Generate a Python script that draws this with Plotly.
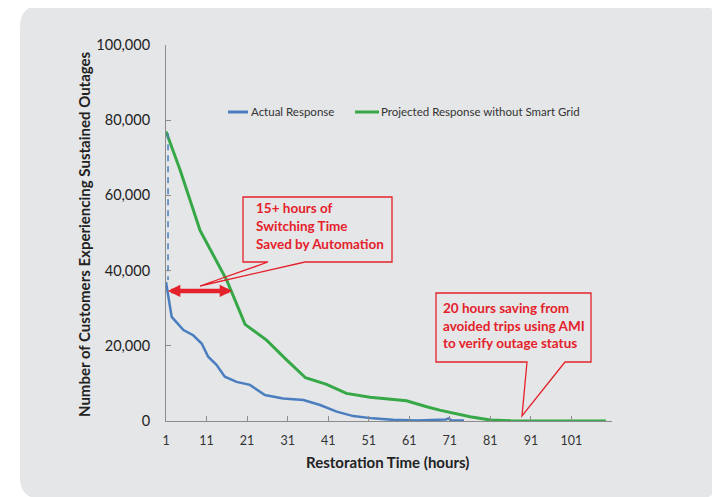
import plotly.graph_objects as go

# ---------------- data ----------------
actual_hours = [1, 2.4, 5.3, 7.7, 9.8, 11.4, 13.5, 15.5, 18.4, 21.7, 25.4, 29.9, 34.9, 39, 43.1,
                47.2, 52, 57, 63, 68, 70, 70.7, 71.5, 74.5]
actual_values = [37000, 27700, 24200, 22800, 20600, 17100, 14900, 11800, 10400, 9600, 6900, 6000,
                 5600, 4250, 2500, 1300, 700, 300, 150, 200, 400, 700, 150, 100]

projected_hours = [1, 4.5, 9.4, 16, 20.5, 25.8, 30.8, 35.4, 40.6, 45.5, 51.3, 60.3, 65.3, 68.5,
                   76, 81, 86, 109.5]
projected_values = [77000, 66700, 50700, 37400, 25700, 21500, 16200, 11500, 9750, 7350, 6300,
                     5400, 3800, 2900, 1150, 250, 80, 0]

# initial drop (dashed) of the actual response
drop_hours = [1.5, 1.5]
drop_values = [76500, 37500]

# automation saving arrow (hours) at level
saving_start, saving_end, saving_level = 1.1, 17.3, 34600

x_ticks = [1, 11, 21, 31, 41, 51, 61, 71, 81, 91, 101]
y_ticks = [0, 20000, 40000, 60000, 80000, 100000]
y_tick_labels = ["0", "20,000", "40,000", "60,000", "80,000", "100,000"]

series_names = ["Actual Response", "Projected Response without Smart Grid"]
callout1 = ["15+ hours of", "Switching Time", "Saved by Automation"]
callout2 = ["20 hours saving from", "avoided trips using AMI", "to verify outage status"]

BLUE = "#4a7ebf"
GREEN = "#37a847"
RED = "#e4222b"
CARD = "#e5e6e8"
FONT = "Lato"

# ---------------- layout geometry (page pixels; page has an 8px body margin) ----------------
OFF = 8
W, H = 720 - OFF, 497 - OFF
L, R, T, B = 166 - OFF, 108, 45 - OFF, 76
PW, PH = W - L - R, H - T - B


def xp(px):
    return (px - OFF - L) / PW


def yp(py):
    return (H - B - (py - OFF)) / PH


def path(points, close=True):
    s = "M " + " L ".join(f"{xp(a):.5f},{yp(b):.5f}" for a, b in points)
    return s + (" Z" if close else "")


fig = go.Figure()

fig.add_trace(go.Scatter(x=projected_hours, y=projected_values, mode="lines",
                         line=dict(color=GREEN, width=3), name=series_names[1]))
fig.add_trace(go.Scatter(x=actual_hours, y=actual_values, mode="lines",
                         line=dict(color=BLUE, width=2.5), name=series_names[0]))
fig.add_trace(go.Scatter(x=drop_hours, y=drop_values, mode="lines",
                         line=dict(color=BLUE, width=1.5, dash="6px,5px"), showlegend=False))

shapes = []
# rounded card background
x0, x1, y0, y1, r = 20, 719, 5, 499, 22
card = (f"M {xp(x0 + r)},{yp(y0)} L {xp(x1 - r)},{yp(y0)} Q {xp(x1)},{yp(y0)} {xp(x1)},{yp(y0 + r)} "
        f"L {xp(x1)},{yp(y1 - r)} Q {xp(x1)},{yp(y1)} {xp(x1 - r)},{yp(y1)} "
        f"L {xp(x0 + r)},{yp(y1)} Q {xp(x0)},{yp(y1)} {xp(x0)},{yp(y1 - r)} "
        f"L {xp(x0)},{yp(y0 + r)} Q {xp(x0)},{yp(y0)} {xp(x0 + r)},{yp(y0)} Z")
shapes.append(dict(type="path", path=card, xref="paper", yref="paper", fillcolor=CARD,
                   line=dict(width=0), layer="below"))

# callouts
c1 = [(243, 197), (392, 197), (392, 262), (305, 262), (200, 286), (268, 262), (243, 262)]
c2 = [(436, 293), (591, 293), (591, 362), (565, 362), (522, 416), (527, 362), (436, 362)]
for c in (c1, c2):
    shapes.append(dict(type="path", path=path(c), xref="paper", yref="paper",
                       line=dict(color=RED, width=1.3), fillcolor="rgba(0,0,0,0)"))

# legend lines
shapes.append(dict(type="line", xref="paper", yref="paper", x0=xp(228), x1=xp(248), y0=yp(112),
                   y1=yp(112), line=dict(color=BLUE, width=3)))
shapes.append(dict(type="line", xref="paper", yref="paper", x0=xp(355), x1=xp(379), y0=yp(112),
                   y1=yp(112), line=dict(color=GREEN, width=3)))

annotations = []
annotations.append(dict(x=xp(249), y=yp(111.5), xref="paper", yref="paper", text=series_names[0],
                        showarrow=False, xanchor="left", yanchor="middle",
                        font=dict(family=FONT, size=11.5, color="#333333")))
annotations.append(dict(x=xp(379), y=yp(111.5), xref="paper", yref="paper", text=series_names[1],
                        showarrow=False, xanchor="left", yanchor="middle",
                        font=dict(family=FONT, size=11.5, color="#333333")))

for i, line in enumerate(callout1):
    annotations.append(dict(x=xp(254), y=yp(208 + i * 18), xref="paper", yref="paper", text=f"<b>{line}</b>",
                            showarrow=False, xanchor="left", yanchor="middle",
                            font=dict(family=FONT, size=13.5, color=RED)))
for i, line in enumerate(callout2):
    annotations.append(dict(x=xp(441), y=yp(308 + i * 17.7), xref="paper", yref="paper", text=f"<b>{line}</b>",
                            showarrow=False, xanchor="left", yanchor="middle",
                            font=dict(family=FONT, size=13.5, color=RED)))

# double-headed arrow
annotations.append(dict(x=saving_end, y=saving_level, ax=saving_start, ay=saving_level,
                        xref="x", yref="y", axref="x", ayref="y", text="", showarrow=True,
                        arrowhead=2, startarrowhead=2, arrowside="end+start", arrowwidth=4.5,
                        arrowsize=0.55, startarrowsize=0.55, arrowcolor=RED))

# axis titles
annotations.append(dict(x=xp(84), y=yp(234), xref="paper", yref="paper",
                        text="<b>Number of Customers Experiencing Sustained Outages</b>",
                        textangle=-90, showarrow=False, xanchor="center", yanchor="middle",
                        font=dict(family=FONT, size=15, color="#222222")))
annotations.append(dict(x=xp(387), y=yp(462), xref="paper", yref="paper",
                        text="<b>Restoration Time (hours)</b>", showarrow=False,
                        xanchor="center", yanchor="middle",
                        font=dict(family=FONT, size=15, color="#222222")))

fig.update_layout(
    width=W, height=H,
    margin=dict(l=L, r=R, t=T, b=B),
    paper_bgcolor="white", plot_bgcolor="rgba(0,0,0,0)",
    showlegend=False,
    shapes=shapes, annotations=annotations,
    xaxis=dict(range=[1, 111], tickvals=x_ticks, ticktext=[str(v) for v in x_ticks],
               showline=True, linecolor="#8c8c8c", linewidth=1, showgrid=False, zeroline=False,
               ticks="inside", ticklen=5, tickcolor="#8c8c8c",
               tickfont=dict(family=FONT, size=12.5, color="#333333"), ticklabelstandoff=8),
    yaxis=dict(range=[0, 100000], tickvals=y_ticks, ticktext=y_tick_labels,
               showline=True, linecolor="#8c8c8c", linewidth=1, showgrid=False, zeroline=False,
               ticks="inside", ticklen=5, tickcolor="#8c8c8c",
               tickfont=dict(family=FONT, size=14.5, color="#222222"), ticklabelstandoff=12),
)

fig.write_html("out.html")
